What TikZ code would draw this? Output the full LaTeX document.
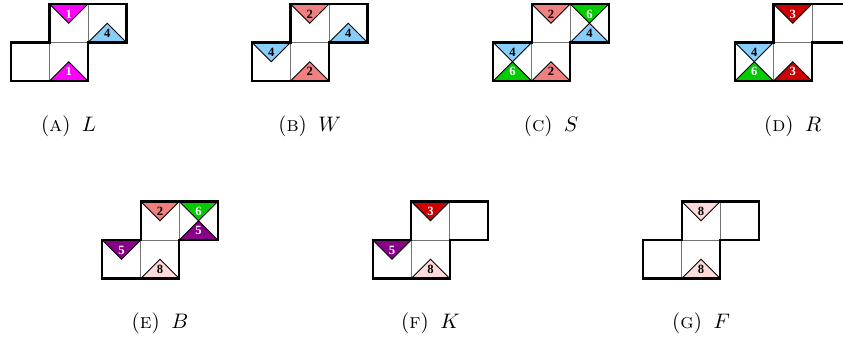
\documentclass[tikz,border=0pt]{standalone}
\usepackage{fontspec}
\newfontfamily\digfont{Liberation Serif}
\usepackage{xcolor}
\definecolor{cmag}{RGB}{255,0,255}
\definecolor{cblue}{RGB}{135,206,250}
\definecolor{csal}{RGB}{240,128,128}
\definecolor{cgreen}{RGB}{0,204,0}
\definecolor{cred}{RGB}{204,0,0}
\definecolor{cpurp}{RGB}{136,0,136}
\definecolor{cpink}{RGB}{255,218,218}
\newcommand\cellsz{38.5}
% inner (thin) cell lines of the net
\newcommand\netinner[2]{%
  \draw[innerline] ({#1+\cellsz},#2) -- ({#1+\cellsz},{#2-\cellsz}) -- ({#1+2*\cellsz},{#2-\cellsz}) -- ({#1+2*\cellsz},{#2-2*\cellsz});}
% thick outline of the net
\newcommand\netoutline[2]{%
  \draw[netline] (#1,#2) -- ++({2*\cellsz},0) -- ++(0,-\cellsz) -- ++(\cellsz,0) -- ++(0,-\cellsz) -- ++({-2*\cellsz},0) -- ++(0,\cellsz) -- ++(-\cellsz,0) -- cycle;}
% triangle on top edge of cell (i,j): name, X, Y, i, j, fill, text colour, digit
\newcommand\toptri[8]{%
  \filldraw[tri, fill=#6] ({#2+#4*\cellsz},{#3-(#5+1)*\cellsz}) -- ++(\cellsz,0) -- ({#2+(#4+0.5)*\cellsz},{#3-(#5+0.5)*\cellsz}) -- cycle;
  \node[lbl, text=#7] (#1) at ({#2+(#4+0.5)*\cellsz},{#3-(#5+0.74)*\cellsz}) {#8};}
% triangle on bottom edge of cell (i,j)
\newcommand\bottri[8]{%
  \filldraw[tri, fill=#6] ({#2+#4*\cellsz},{#3-#5*\cellsz}) -- ++(\cellsz,0) -- ({#2+(#4+0.5)*\cellsz},{#3-(#5+0.5)*\cellsz}) -- cycle;
  \node[lbl, text=#7] (#1) at ({#2+(#4+0.5)*\cellsz},{#3-(#5+0.25)*\cellsz}) {#8};}
\tikzset{
  innerline/.style={draw=black!55, line width=0.4pt},
  netline/.style={draw=black, line width=1pt, line join=miter},
  tri/.style={draw=black, line width=0.4pt, line join=miter},
  lbl/.style={inner sep=0pt, font=\digfont\fontsize{6}{7}\selectfont\bfseries},
  captext/.style={inner sep=0pt, font=\fontsize{10}{12}\selectfont, anchor=base},
}
\begin{document}
\begin{tikzpicture}[x=0.476pt, y=-0.476pt]
\useasboundingbox (0,0) rectangle (843,341);
\clip (0,0) rectangle (843,341);
% ---------- (a) L
\netinner{11}{81}
\toptri{a1}{11}{81}{1}{1}{cmag}{white}{1}
\bottri{a2}{11}{81}{2}{1}{cblue}{black}{4}
\bottri{a3}{11}{81}{1}{0}{cmag}{white}{1}
\netoutline{11}{81}
\node[captext] (capa) at (68.75,131.5) {(\textsc{a})\hskip5.5pt$L$};
% ---------- (b) W
\netinner{252}{81}
\toptri{b1}{252}{81}{1}{1}{csal}{black}{2}
\bottri{b2}{252}{81}{2}{1}{cblue}{black}{4}
\toptri{b3}{252}{81}{0}{0}{cblue}{black}{4}
\bottri{b4}{252}{81}{1}{0}{csal}{black}{2}
\netoutline{252}{81}
\node[captext] (capb) at (309.75,131.5) {(\textsc{b})\hskip5.5pt$W$};
% ---------- (c) S
\netinner{493.3}{81}
\toptri{c1}{493.3}{81}{1}{1}{csal}{black}{2}
\toptri{c2}{493.3}{81}{2}{1}{cgreen}{white}{6}
\bottri{c3}{493.3}{81}{2}{1}{cblue}{black}{4}
\toptri{c4}{493.3}{81}{0}{0}{cblue}{black}{4}
\bottri{c5}{493.3}{81}{0}{0}{cgreen}{white}{6}
\bottri{c6}{493.3}{81}{1}{0}{csal}{black}{2}
\netoutline{493.3}{81}
\node[captext] (capc) at (551.05,131.5) {(\textsc{c})\hskip5.5pt$S$};
% ---------- (d) R
\netinner{735}{81}
\toptri{d1}{735}{81}{1}{1}{cred}{white}{3}
\toptri{d2}{735}{81}{0}{0}{cblue}{black}{4}
\bottri{d3}{735}{81}{0}{0}{cgreen}{white}{6}
\bottri{d4}{735}{81}{1}{0}{cred}{white}{3}
\netoutline{735}{81}
\node[captext] (capd) at (792.75,131.5) {(\textsc{d})\hskip5.5pt$R$};
% ---------- (e) B
\netinner{102.3}{278.5}
\toptri{e1}{102.3}{278.5}{1}{1}{csal}{black}{2}
\toptri{e2}{102.3}{278.5}{2}{1}{cgreen}{white}{6}
\bottri{e3}{102.3}{278.5}{2}{1}{cpurp}{white}{5}
\toptri{e4}{102.3}{278.5}{0}{0}{cpurp}{white}{5}
\bottri{e5}{102.3}{278.5}{1}{0}{cpink}{black}{8}
\netoutline{102.3}{278.5}
\node[captext] (cape) at (160.05,328.3) {(\textsc{e})\hskip5.5pt$B$};
% ---------- (f) K
\netinner{372.7}{278.5}
\toptri{f1}{372.7}{278.5}{1}{1}{cred}{white}{3}
\toptri{f2}{372.7}{278.5}{0}{0}{cpurp}{white}{5}
\bottri{f3}{372.7}{278.5}{1}{0}{cpink}{black}{8}
\netoutline{372.7}{278.5}
\node[captext] (capf) at (430.45,328.3) {(\textsc{f})\hskip5.5pt$K$};
% ---------- (g) F
\netinner{643.3}{278.5}
\toptri{g1}{643.3}{278.5}{1}{1}{cpink}{black}{8}
\bottri{g2}{643.3}{278.5}{1}{0}{cpink}{black}{8}
\netoutline{643.3}{278.5}
\node[captext] (capg) at (701.05,328.3) {(\textsc{g})\hskip5.5pt$F$};
\end{tikzpicture}
\end{document}
